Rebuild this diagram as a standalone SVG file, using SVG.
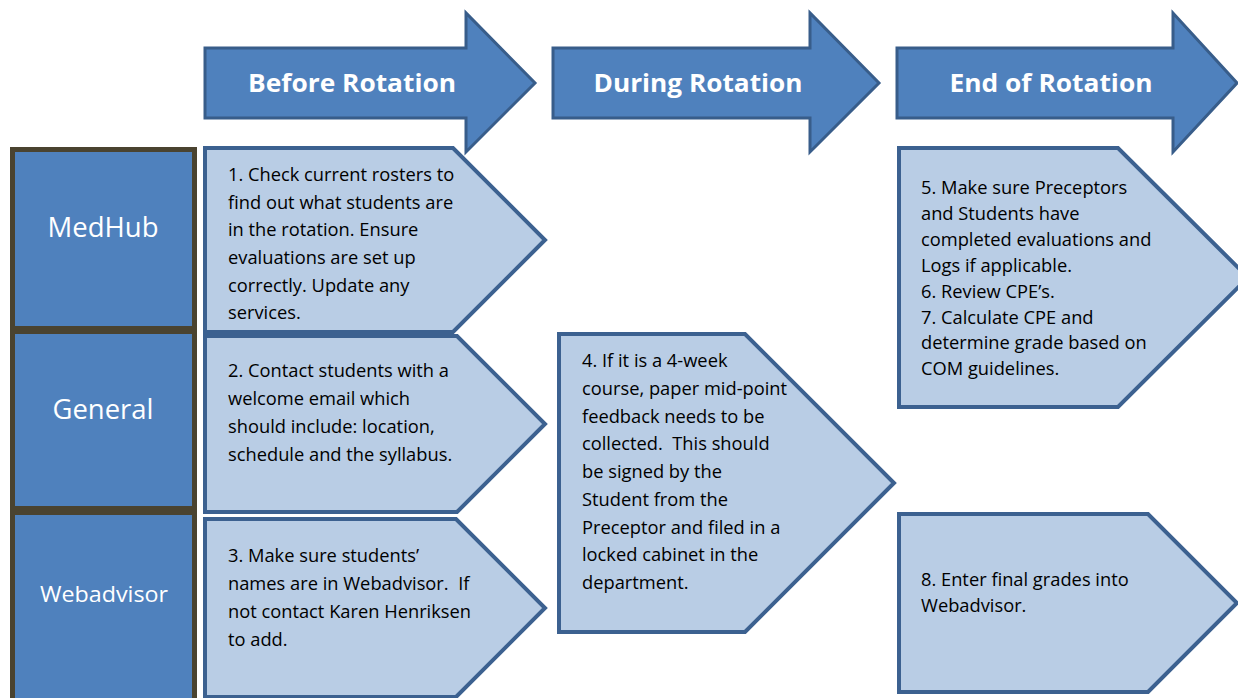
<svg xmlns="http://www.w3.org/2000/svg" width="1238" height="698" viewBox="0 0 1238 698">
<style>
.arrow{fill:#4F81BD;stroke:#385D8A;stroke-width:3;stroke-linejoin:miter}
.hdr{font-family:"Open Sans","Liberation Sans",Arial,sans-serif;font-weight:bold;font-size:25px;fill:#FFFFFF;text-anchor:middle}
.side{fill:#4F81BD;stroke:#4A4330;stroke-width:5}
.lbl{font-family:"Open Sans","Liberation Sans",Arial,sans-serif;fill:#FFFFFF;text-anchor:middle}
.pent{fill:#B9CDE5;stroke:#3C6190;stroke-width:4;stroke-linejoin:miter}
.txt{font-family:"Open Sans","Liberation Sans",Arial,sans-serif;font-size:18.3px;fill:#000000;white-space:pre}
</style>
<g id="phase-before">
<polygon class="arrow" points="205,48 466,48 466,13 535,83 466,152 466,118 205,118"/>
<text class="hdr" x="352" y="92" textLength="208" lengthAdjust="spacingAndGlyphs">Before Rotation</text>
</g>
<g id="phase-during">
<polygon class="arrow" points="553,48 810,48 810,13 879,83 810,152 810,118 553,118"/>
<text class="hdr" x="698" y="92" textLength="209" lengthAdjust="spacingAndGlyphs">During Rotation</text>
</g>
<g id="phase-end">
<polygon class="arrow" points="897,48 1173,48 1173,13 1237,83 1173,152 1173,118 897,118"/>
<text class="hdr" x="1051" y="92" textLength="203" lengthAdjust="spacingAndGlyphs">End of Rotation</text>
</g>
<g id="row-medhub">
<rect class="side" x="12.5" y="149.5" width="182" height="179"/>
<text class="lbl" x="103" y="237" font-size="27" textLength="111" lengthAdjust="spacingAndGlyphs">MedHub</text>
</g>
<g id="row-general">
<rect class="side" x="12.5" y="331.5" width="182" height="177"/>
<text class="lbl" x="103" y="419" font-size="27" textLength="101" lengthAdjust="spacingAndGlyphs">General</text>
</g>
<g id="row-webadvisor">
<rect class="side" x="12.5" y="512.5" width="182" height="190"/>
<text class="lbl" x="104" y="602" font-size="22" textLength="128" lengthAdjust="spacingAndGlyphs">Webadvisor</text>
</g>
<g id="step-1">
<polygon class="pent" points="205,148 453,148 545,240 453,332 205,332"/>
<text class="txt"><tspan x="228" y="181">1. Check current rosters to</tspan><tspan x="228" y="208.5">find out what students are</tspan><tspan x="228" y="236">in the rotation. Ensure</tspan><tspan x="228" y="264">evaluations are set up</tspan><tspan x="228" y="291.5">correctly. Update any</tspan><tspan x="228" y="319">services.</tspan></text>
</g>
<g id="step-2">
<polygon class="pent" points="205,336 457,336 545,424 457,512 205,512"/>
<text class="txt"><tspan x="228" y="377">2. Contact students with a</tspan><tspan x="228" y="405">welcome email which</tspan><tspan x="228" y="433">should include: location,</tspan><tspan x="228" y="461">schedule and the syllabus.</tspan></text>
</g>
<g id="step-3">
<polygon class="pent" points="205,519 456,519 545,608 456,697 205,697"/>
<text class="txt"><tspan x="228" y="562">3. Make sure students’</tspan><tspan x="228" y="590">names are in Webadvisor.  If</tspan><tspan x="228" y="618">not contact Karen Henriksen</tspan><tspan x="228" y="646">to add.</tspan></text>
</g>
<g id="step-4">
<polygon class="pent" points="559,334 745,334 894,483 745,632 559,632"/>
<text class="txt"><tspan x="582" y="367">4. If it is a 4-week</tspan><tspan x="582" y="395">course, paper mid-point</tspan><tspan x="582" y="422.5">feedback needs to be</tspan><tspan x="582" y="450">collected.  This should</tspan><tspan x="582" y="478">be signed by the</tspan><tspan x="582" y="506">Student from the</tspan><tspan x="582" y="533.5">Preceptor and filed in a</tspan><tspan x="582" y="561">locked cabinet in the</tspan><tspan x="582" y="589">department.</tspan></text>
</g>
<g id="step-5-7">
<polygon class="pent" points="899,148 1118,148 1248,277.5 1118,407 899,407"/>
<text class="txt"><tspan x="921" y="194">5. Make sure Preceptors</tspan><tspan x="921" y="220">and Students have</tspan><tspan x="921" y="246">completed evaluations and</tspan><tspan x="921" y="272">Logs if applicable.</tspan><tspan x="921" y="297.5">6. Review CPE’s.</tspan><tspan x="921" y="323.5">7. Calculate CPE and</tspan><tspan x="921" y="349">determine grade based on</tspan><tspan x="921" y="375">COM guidelines.</tspan></text>
</g>
<g id="step-8">
<polygon class="pent" points="899,514 1148,514 1237,603 1148,692 899,692"/>
<text class="txt"><tspan x="921" y="586">8. Enter final grades into</tspan><tspan x="921" y="612">Webadvisor.</tspan></text>
</g>
<g id="connectors"></g>
</svg>
